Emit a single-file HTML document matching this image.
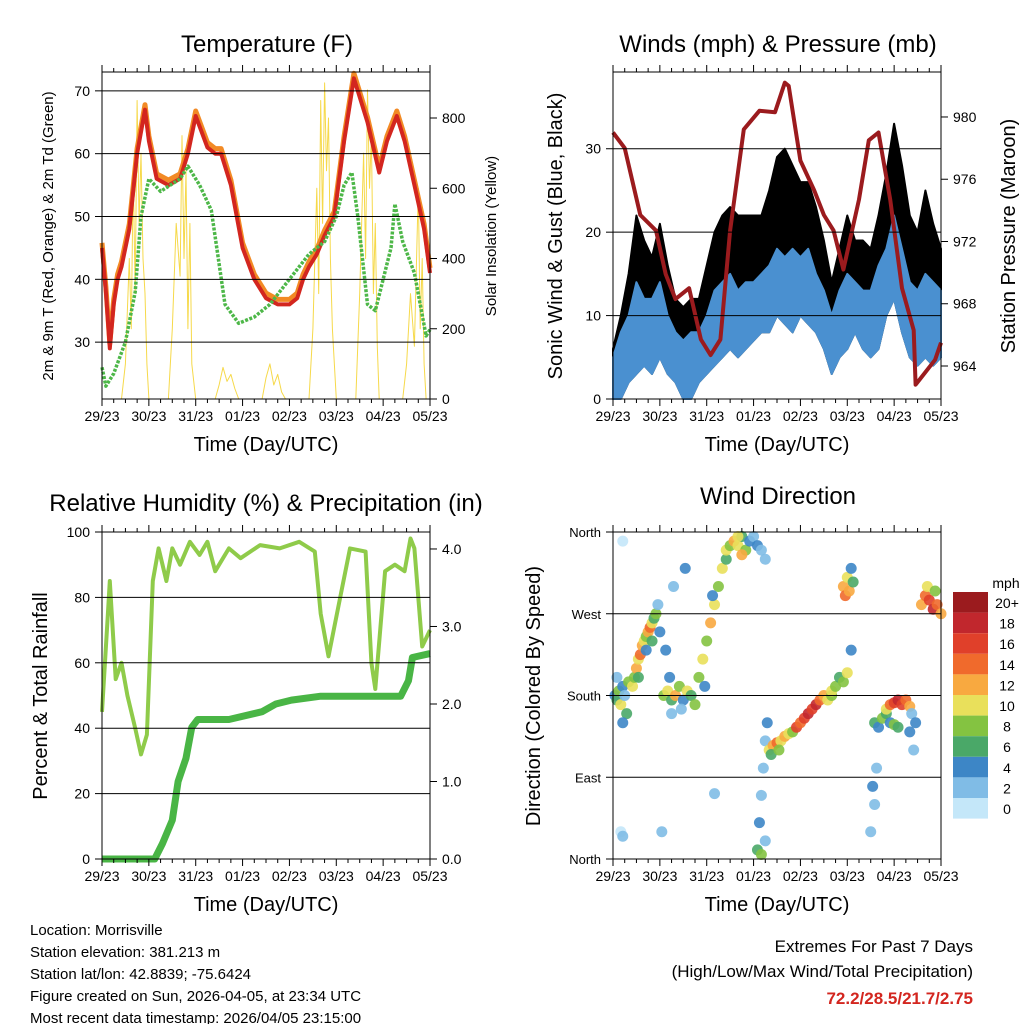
<!DOCTYPE html>
<html><head><meta charset="utf-8"><style>
html,body{margin:0;padding:0;background:#fff}
svg{display:block;font-family:"Liberation Sans",Arial,sans-serif}
</style></head><body>
<svg id="chart" width="1024" height="1024" viewBox="0 0 1024 1024"></svg>
<script>
// ---------- DATA ----------
var dayTicks = ["29/23","30/23","31/23","01/23","02/23","03/23","04/23","05/23"];
// Temperature (F)
var tempHours = [0,2,4,6,8,10,14,18,22,24,28,34,40,44,48,54,58,61,66,72,78,84,90,96,100,103,106,110,114,119,124,129,136,142,146,151,155,160,165,168];
var tempVals  = [45,38,29,36,40,42,48,60,67,62,56,55,56,60,66,61,60,60,55,45,40,37,36,36,37,40,42,44,47,50,62,72,65,57,62,66,62,55,48,41];
var dewHours = [0,2,6,12,17,20,24,30,40,44,50,56,63,70,78,86,96,106,114,120,124,128,131,136,140,148,150,154,160,166,168];
var dewVals  = [26,23,25,30,38,50,56,54,56,58,55,51,36,33,34,36,40,44,46,50,55,57,50,36,35,45,52,46,41,31,32];
var solarHours = [10,12,14,15,16,17,18,19,20,21,22,23,24,34,36,38,40,41,42,43,44,45,46,48,58,60,62,64,66,68,70,82,84,86,88,90,92,94,106,108,110,111,112,113,114,115,116,117,118,120,130,132,134,135,136,137,138,139,140,141,142,154,156,158,160,162,163,164,165,166];
var solarVals  = [0,100,400,200,650,300,850,500,700,400,300,100,0,0,200,500,350,750,400,650,200,500,100,0,0,40,90,50,70,30,0,0,60,100,40,70,20,0,0,200,600,300,850,500,900,650,800,400,200,0,0,300,700,400,880,600,750,300,500,150,0,0,100,300,150,600,200,400,100,0];
// Winds (mph) & pressure (mb)
var windHours = [0,4,8,12,16,20,24,28,32,36,40,44,48,52,56,60,64,68,72,76,80,84,88,92,96,100,104,108,112,116,120,124,128,132,136,140,144,148,152,156,160,164,168];
var windLow  = [0,0,2,3,4,3,5,3,2,0,0,2,3,4,5,6,5,6,7,8,8,10,9,8,10,9,8,6,3,5,6,8,6,5,6,10,12,8,5,4,5,4,5];
var windHigh = [5,8,10,14,12,12,14,10,8,7,8,8,10,13,14,15,13,14,14,15,16,18,17,18,17,18,15,13,10,13,15,14,13,13,16,18,22,18,14,13,15,14,13];
var gustHigh = [6,10,15,22,19,17,21,16,12,11,12,12,16,20,22,23,22,22,22,22,25,29,30,28,26,26,23,19,14,18,22,19,19,18,22,27,33,28,22,20,25,21,18];
var presHours = [0,6,14,22,27,32,39,45,50,55,60,67,75,83,88,90,96,103,108,113,118,126,131,136,142,148,154,155,165,168];
var presVals  = [979,978,973.7,972.7,969.9,968.3,969,965.7,964.7,965.7,972.7,979.2,980.4,980.3,982.2,982,977.2,975.3,973.7,972.7,970.2,974.7,978.5,979,974.7,969,966.3,962.8,964.4,965.5];
// RH (%) & precipitation (in)
var rhHours = [0,3,4,7,10,13,17,20,23,26,29,33,36,40,45,50,54,58,65,71,81,91,101,109,112,116,122,127,135,138,140,145,150,155,158,160,164,168];
var rhVals  = [45,75,85,55,60,50,40,32,38,85,95,85,95,90,97,93,97,88,95,92,96,95,97,94,75,62,80,95,94,60,52,88,90,88,98,95,65,70];
var pcpHours = [0,27,31,36,39,43,46,49,65,82,89,97,112,153,157,159,168];
var pcpVals  = [0,0,0.2,0.5,1.0,1.3,1.7,1.8,1.8,1.9,2.0,2.05,2.1,2.1,2.3,2.6,2.65];
// Wind direction (deg) & speed (mph)
var dirHours = [1,2,3,4,5,6,7,8,2,5, 10,11,12,13,14,15,16,17,18,19,20,21,22,13,17,20,24,23, 26,28,30,32,34,36,38,40,42,29,35,27,31,37,30, 44,46,48,50,52,54,56,58,47,51, 58,60,62,64,66,68,70,72,74,76,78,66,64, 74,75,76,77,78,79,76,78, 80,82,84,86,88,90,92,81,85, 94,96,98,100,102,104,106,108,110,112, 112,114,116,118,120,122, 118,119,120,121,122,123, 132,134,133,135, 134,136,138,140,142,144,146, 140,142,144,146,148,150,152, 152,153,154,155, 158,160,162,164,166,168,161,165, 4,5,25,52,5];
var dirDeg = [180,175,185,170,190,180,160,195,200,150, 190,200,210,220,225,235,240,245,250,255,260,265,270,200,230,240,250,280, 180,185,175,180,190,175,185,180,170,200,165,230,300,320,160, 200,220,240,260,280,300,320,330,190,290, 340,345,350,345,355,340,350,355,345,340,330,335,355, 10,40,70,100,130,150,5,20, 120,125,128,130,135,138,140,115,120, 145,150,155,160,165,170,175,180,175,180, 185,190,200,195,205,230, 300,290,310,295,320,305, 30,60,80,100, 150,145,155,160,150,148,145, 165,170,172,175,170,175,168, 140,160,120,150, 280,290,285,275,280,270,300,295, 30,25,30,72,350];
var dirSpd = [4,6,8,10,5,2,6,8,3,4, 10,8,12,10,14,12,10,8,12,14,10,6,8,6,4,6,4,3, 8,10,6,12,8,4,10,6,8,4,3,4,3,4,2, 8,10,8,12,10,8,10,6,4,4, 10,8,12,10,6,8,4,2,4,3,2,12,10, 6,4,3,2,3,4,8,2, 10,12,14,10,12,10,8,6,8, 16,14,16,18,16,18,14,12,10,8, 10,8,6,8,10,4, 12,14,10,12,4,6, 2,3,4,2, 6,4,8,6,4,8,6, 10,14,16,18,16,14,12, 4,2,3,4, 12,14,16,18,14,12,10,8, 1,2,2,2,1];
var spdLabels = ["20+","18","16","14","12","10","8","6","4","2","0"];
var spdColors = ["#9b1b1e","#c1272d","#e0402a","#f06a2c","#f8a940","#e9e05b","#84c341","#4aa868","#3d86c6","#80bce6","#c4e7f9"];

// ---------- HELPERS ----------
var NS="http://www.w3.org/2000/svg", svg=document.getElementById("chart");
function mk(tag,attrs,parent){var e=document.createElementNS(NS,tag);for(var k in attrs)e.setAttribute(k,attrs[k]);(parent||svg).appendChild(e);return e;}
function txt(s,x,y,size,anchor,parent,rot){var t=mk("text",{x:x,y:y,"font-size":size,"text-anchor":anchor||"middle",fill:"#000"},parent);if(rot)t.setAttribute("transform","rotate(-90 "+x+" "+y+")");t.textContent=s;return t;}
function panel(x0,x1,y0,y1){return {x0:x0,x1:x1,y0:y0,y1:y1,xs:function(h){return x0+h/168*(x1-x0);}};}
function lin(d0,d1,p0,p1){return function(v){return p0+(v-d0)/(d1-d0)*(p1-p0);};}
function frame(p,name){
  var g=mk("g",{});  
  mk("rect",{x:p.x0,y:p.y0,width:p.x1-p.x0,height:p.y1-p.y0,fill:"none",stroke:"#000","stroke-width":1},g);
  for(var i=0;i<dayTicks.length;i++){var x=p.xs(i*24);
    mk("line",{x1:x,x2:x,y1:p.y1,y2:p.y1+7,stroke:"#000"},g);mk("line",{x1:x,x2:x,y1:p.y0,y2:p.y0-7,stroke:"#000"},g);
    var t=txt(dayTicks[i],x,p.y1+22,14,"middle",g);
    if(i<7)for(var j=1;j<4;j++){var xm=p.xs(i*24+j*6);mk("line",{x1:xm,x2:xm,y1:p.y1,y2:p.y1+4,stroke:"#000"},g);mk("line",{x1:xm,x2:xm,y1:p.y0,y2:p.y0-4,stroke:"#000"},g);}
  }
  var xt=txt("Time (Day/UTC)",(p.x0+p.x1)/2,p.y1+52,20,"middle",g);
  return g;
}
function leftTicks(p,g,scale,vals,labels,grid,size){
  for(var i=0;i<vals.length;i++){var y=scale(vals[i]);
    mk("line",{x1:p.x0-7,x2:p.x0,y1:y,y2:y,stroke:"#000"},g);
    if(grid&&y>p.y0+1&&y<p.y1-1)mk("line",{x1:p.x0,x2:p.x1,y1:y,y2:y,stroke:"#000","stroke-width":1},g);
    txt(labels[i],p.x0-12,y+5,size||14,"end",g);}
}
function rightTicks(p,g,scale,vals,labels){
  for(var i=0;i<vals.length;i++){var y=scale(vals[i]);
    mk("line",{x1:p.x1,x2:p.x1+7,y1:y,y2:y,stroke:"#000"},g);
    txt(labels[i],p.x1+12,y+5,14,"start",g);}
}
function poly(p,hours,vals,ys,attrs,name){
  var pts=[];for(var i=0;i<hours.length;i++)pts.push(p.xs(hours[i]).toFixed(1)+","+ys(vals[i]).toFixed(1));
  attrs.points=pts.join(" ");attrs.fill="none";attrs["stroke-linejoin"]="round";
  var e=mk("polyline",attrs);return e;
}
function band(p,hours,lo,hi,ys,fill,name){
  var pts=[],i;for(i=0;i<hours.length;i++)pts.push(p.xs(hours[i]).toFixed(1)+","+ys(hi[i]).toFixed(1));
  for(i=hours.length-1;i>=0;i--)pts.push(p.xs(hours[i]).toFixed(1)+","+ys(lo[i]).toFixed(1));
  var e=mk("polygon",{points:pts.join(" "),fill:fill,stroke:fill,"stroke-width":2,"stroke-linejoin":"round"});
  return e;
}
function title(s,x,y){var t=txt(s,x,y,24,"middle");}

// ---------- PANEL 1: Temperature ----------
var P1=panel(102,430,72,399);
var t1=lin(20.95,73,399,72), s1=lin(0,931,399,72);
title("Temperature (F)",267,52);
poly(P1,solarHours,solarVals,s1,{stroke:"#f6d94a","stroke-width":1},"solar-insolation-line");
poly(P1,tempHours,tempVals.map(function(v){return v+0.8;}),t1,{stroke:"#f28a25","stroke-width":5},"temp-9m-line");
poly(P1,tempHours,tempVals,t1,{stroke:"#d3261f","stroke-width":4},"temp-2m-line");
poly(P1,dewHours,dewVals,t1,{stroke:"#4db748","stroke-width":3.5,"stroke-dasharray":"3 1.5"},"dewpoint-line");
var g1=frame(P1,"temperature");
leftTicks(P1,g1,t1,[30,40,50,60,70],["30","40","50","60","70"],true);
rightTicks(P1,g1,s1,[0,200,400,600,800],["0","200","400","600","800"]);
var a=txt("2m & 9m T (Red, Orange) & 2m Td (Green)",53,236,15,"middle",g1,true);
a=txt("Solar Insolation (Yellow)",496,236,15,"middle",g1,true);

// ---------- PANEL 2: Winds & Pressure ----------
var P2=panel(613,941,72,399);
var w2=lin(0,39.2,399,72), pr2=lin(961.88,982.89,399,72);
title("Winds (mph) & Pressure (mb)",778,52);
band(P2,windHours,windLow,gustHigh,w2,"#000","gust-band");
band(P2,windHours,windLow,windHigh,w2,"#4a90d0","wind-band");
poly(P2,presHours,presVals,pr2,{stroke:"#9b1b1e","stroke-width":4},"pressure-line");
var g2=frame(P2,"winds");
leftTicks(P2,g2,w2,[0,10,20,30],["0","10","20","30"],true);
rightTicks(P2,g2,pr2,[964,968,972,976,980],["964","968","972","976","980"]);
a=txt("Sonic Wind & Gust (Blue, Black)",562,236,20,"middle",g2,true);
a=txt("Station Pressure (Maroon)",1015,236,20,"middle",g2,true);

// ---------- PANEL 3: RH & Precip ----------
var P3=panel(102,430,532,859);
var r3=lin(0,100,859,532), p3=lin(0,4.219,859,532);
title("Relative Humidity (%) & Precipitation (in)",266,511);
poly(P3,rhHours,rhVals,r3,{stroke:"#8fcb4a","stroke-width":4},"relative-humidity-line");
poly(P3,pcpHours,pcpVals,p3,{stroke:"#49b545","stroke-width":7},"precipitation-line");
var g3=frame(P3,"humidity");
leftTicks(P3,g3,r3,[0,20,40,60,80,100],["0","20","40","60","80","100"],true);
rightTicks(P3,g3,p3,[0,1,2,3,4],["0.0","1.0","2.0","3.0","4.0"]);
a=txt("Percent & Total Rainfall",47,696,20,"middle",g3,true);

// ---------- PANEL 4: Wind Direction ----------
var P4=panel(613,941,532,859);
var d4=lin(0,360,859,532);
title("Wind Direction",778,504);
function spdColor(s){var i=Math.min(10,Math.floor(s/2));return spdColors[10-i];}
var dg=mk("g",{});
for(var i=0;i<dirHours.length;i++){
  var c=mk("circle",{cx:P4.xs(dirHours[i]),cy:d4(dirDeg[i]),r:5.5,fill:spdColor(dirSpd[i]),"fill-opacity":0.9},dg);
  
  
}
var g4=frame(P4,"direction");
leftTicks(P4,g4,d4,[0,90,180,270,360],["North","East","South","West","North"],true,13);
a=txt("Direction (Colored By Speed)",540,696,20,"middle",g4,true);

// colorbar
var cb=mk("g",{});
txt("mph",1006,588,14,"middle",cb);
for(var k=0;k<spdLabels.length;k++){
  var y=592+k*20.6;
  var r=mk("rect",{x:953,y:y,width:35,height:20.6,fill:spdColors[k]},cb);
  
  
  txt(spdLabels[k],1007,y+16,14,"middle",cb);
}

// ---------- Footer text ----------
var info=["Location: Morrisville","Station elevation: 381.213 m","Station lat/lon: 42.8839; -75.6424","Figure created on Sun, 2026-04-05, at 23:34 UTC","Most recent data timestamp: 2026/04/05 23:15:00"];
var ig=mk("g",{});
for(var m=0;m<info.length;m++)txt(info[m],30,935+m*22,15,"start",ig);
var eg=mk("g",{});
txt("Extremes For Past 7 Days",973,952,17,"end",eg);
txt("(High/Low/Max Wind/Total Precipitation)",973,977,17,"end",eg);
var ex=txt("72.2/28.5/21.7/2.75",973,1004,17,"end",eg);ex.setAttribute("fill","#d3261f");ex.setAttribute("font-weight","bold");
</script>
</body></html>
